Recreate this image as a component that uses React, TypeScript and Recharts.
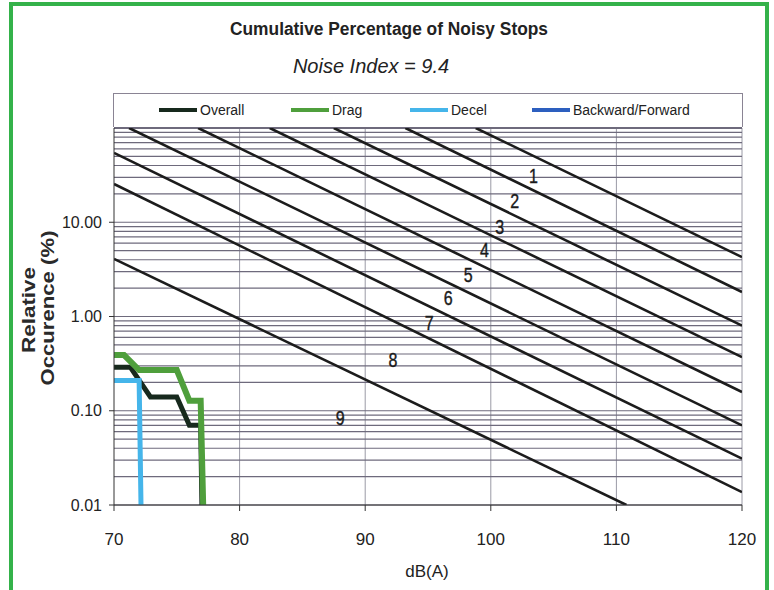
import { ComposedChart, Line, Scatter, XAxis, YAxis, CartesianGrid, ReferenceLine } from 'recharts';

// axis ticks
const xTicks = [70, 80, 90, 100, 110, 120];
const yTicks = [0.01, 0.1, 1, 10];
const gridX = [80, 90, 100, 110, 120];
const decadeStarts = [0.01, 0.1, 1, 10];
const decadeSteps = [1, 2, 3, 4, 5, 6, 7, 8, 9];

// noise index lines 1..9, end points (dB, %)
const indexIds = [1, 2, 3, 4, 5, 6, 7, 8, 9];
const indexStartDb = [98.8, 93.2, 87.5, 82.4, 76.7, 71.2, 70, 70, 70];
const indexStartPct = [100, 100, 100, 100, 100, 100, 54.5, 25.5, 4.09];
const indexEndDb = [120, 120, 120, 120, 120, 120, 120, 120, 110.8];
const indexEndPct = [4.27, 1.82, 0.8, 0.37, 0.158, 0.07, 0.031, 0.0137, 0.01];
const indexLabelDb = [103.4, 101.9, 100.7, 99.5, 98.2, 96.6, 95.1, 92.2, 88.0];
const indexLabelPct = [30.3, 16.5, 8.9, 5.0, 2.7, 1.54, 0.84, 0.34, 0.082];

// measured series
const overallDb = [70, 71.3, 72.9, 75.0, 76.0, 76.9, 77.0];
const overallPct = [0.29, 0.29, 0.14, 0.14, 0.07, 0.07, 0.01];
const dragDb = [70, 70.8, 72.0, 75.0, 76.0, 76.9, 77.1];
const dragPct = [0.39, 0.39, 0.27, 0.27, 0.128, 0.128, 0.01];
const decelDb = [70, 72.0, 72.15];
const decelPct = [0.21, 0.21, 0.01];

const legendNames = ['Overall', 'Drag', 'Decel', 'Backward/Forward'];
const legendColors = ['#17291d', '#4f9f3c', '#45b5ea', '#2d5fbf'];

const FONT = '"Liberation Sans", Arial, sans-serif';
const GRID = '#6e6a7c';

const toPoints = (xs: number[], ys: number[]) => xs.map((x, i) => ({ x, y: ys[i] }));

const gridY = [...decadeStarts.flatMap(d => decadeSteps.map(s => +(d * s).toPrecision(3))), 100];

const indexLines = indexIds.map((id, i) => ({
  id,
  points: [
    { x: indexStartDb[i], y: indexStartPct[i] },
    { x: indexEndDb[i], y: indexEndPct[i] },
  ],
}));

const indexLabels = indexIds.map((id, i) => ({ x: indexLabelDb[i], y: indexLabelPct[i], id }));

// narrow digit, the scan is squeezed sideways
const IndexLabel = (props: any) => {
  const { cx, cy, payload } = props;
  if (cx == null || cy == null) return null;
  return (
    <text
      transform={`translate(${cx},${cy}) scale(0.8,1)`}
      textAnchor="middle"
      dominantBaseline="central"
      fontSize={20}
      fontFamily={FONT}
      fill="#1a1a1a"
      stroke="#1a1a1a"
      strokeWidth={0.4}
    >
      {payload.id}
    </text>
  );
};

export default function App() {
  return (
    <div style={{ position: 'absolute', left: 0, top: 0, width: 774, height: 590, background: '#fff', overflow: 'hidden', fontFamily: FONT }}>
      {/* green frame */}
      <div style={{ position: 'absolute', left: 9, top: 2, width: 752, height: 620, border: '4px solid #34b24a' }} />

      {/* legend box */}
      <div style={{ position: 'absolute', left: 113, top: 93, width: 628, height: 33, border: '1.5px solid #8a8494', borderBottom: 'none' }}>
        {legendNames.map((name, i) => (
          <div key={name} style={{ position: 'absolute', left: [45, 177, 296, 418][i], top: 8, display: 'flex', alignItems: 'center', fontSize: 14, color: '#222', whiteSpace: 'nowrap' }}>
            <span style={{ display: 'inline-block', width: 38, height: 4, background: legendColors[i], marginRight: 3 }} />
            {name}
          </div>
        ))}
      </div>

      <div style={{ position: 'absolute', left: 0, top: 0 }}>
        <ComposedChart width={774} height={590} margin={{ top: 128, right: 32, left: 0, bottom: 50 }}>
          <CartesianGrid verticalValues={gridX} horizontal={false} stroke="#9a9aa6" strokeDasharray="" />
          {gridY.map(v => (
            <ReferenceLine key={v} y={v} stroke={GRID} strokeWidth={v === 100 ? 2 : 1.2} ifOverflow="extendDomain" />
          ))}
          <XAxis
            type="number"
            dataKey="x"
            domain={[70, 120]}
            ticks={xTicks}
            allowDataOverflow
            stroke="#333"
            tickSize={6}
            tickMargin={22}
            tick={{ fontSize: 17, fill: '#222', fontFamily: FONT }}
            height={35}
          />
          <YAxis
            type="number"
            dataKey="y"
            scale="log"
            domain={[0.01, 100]}
            ticks={yTicks}
            allowDataOverflow
            tickFormatter={(v: number) => v.toFixed(2)}
            stroke="#333"
            tickSize={5}
            tickMargin={7}
            tick={{ fontSize: 16, fill: '#222', fontFamily: FONT }}
            width={114}
          />
          {indexLines.map(l => (
            <Line
              key={l.id}
              data={l.points}
              dataKey="y"
              type="linear"
              stroke="#1c1c1c"
              strokeWidth={2.6}
              dot={false}
              isAnimationActive={false}
            />
          ))}
          <Line data={toPoints(overallDb, overallPct)} dataKey="y" name="Overall" type="linear" stroke={legendColors[0]} strokeWidth={5} dot={false} isAnimationActive={false} />
          <Line data={toPoints(decelDb, decelPct)} dataKey="y" name="Decel" type="linear" stroke={legendColors[2]} strokeWidth={5} dot={false} isAnimationActive={false} />
          <Line data={toPoints(dragDb, dragPct)} dataKey="y" name="Drag" type="linear" stroke={legendColors[1]} strokeWidth={6} dot={false} isAnimationActive={false} />
          <Scatter data={indexLabels} dataKey="y" shape={<IndexLabel />} isAnimationActive={false} />
        </ComposedChart>
      </div>

      {/* titles and axis captions */}
      <svg width={774} height={590} style={{ position: 'absolute', left: 0, top: 0, pointerEvents: 'none' }}>
        <text x={389} y={35} textAnchor="middle" fontWeight="bold" fontSize={18} textLength={318} lengthAdjust="spacingAndGlyphs" fill="#222" fontFamily={FONT}>
          Cumulative Percentage of Noisy Stops
        </text>
        <text x={371} y={73} textAnchor="middle" fontStyle="italic" fontSize={20} fill="#222" fontFamily={FONT}>
          Noise Index = 9.4
        </text>
        <text transform="translate(35,310) rotate(-90)" textAnchor="middle" fontWeight="bold" fontSize={18} textLength={86} lengthAdjust="spacingAndGlyphs" fill="#2a2a2a" fontFamily={FONT}>
          Relative
        </text>
        <text transform="translate(54,308) rotate(-90)" textAnchor="middle" fontWeight="bold" fontSize={18} textLength={155} lengthAdjust="spacingAndGlyphs" fill="#2a2a2a" fontFamily={FONT}>
          Occurence (%)
        </text>
        <text x={427} y={577} textAnchor="middle" fontSize={17} fill="#222" fontFamily={FONT}>
          dB(A)
        </text>
      </svg>
    </div>
  );
}
